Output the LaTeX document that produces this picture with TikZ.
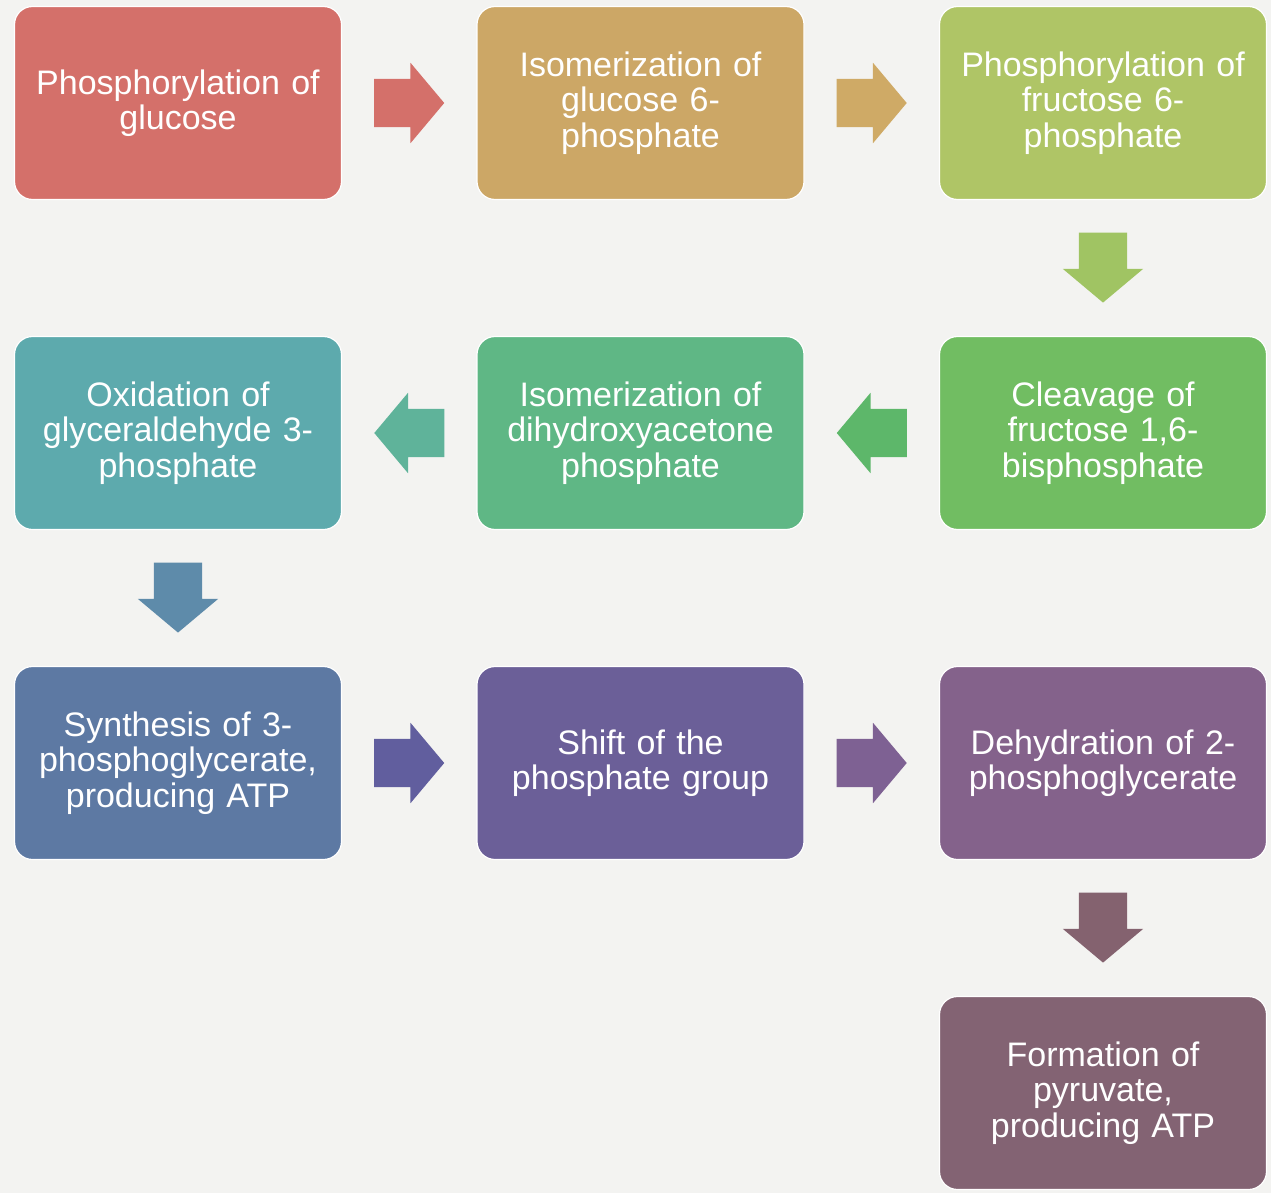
\documentclass[tikz,border=0pt]{standalone}
\usepackage{fontspec}
\setmainfont{Liberation Sans}
\usetikzlibrary{positioning,shapes.arrows,calc}
\definecolor{bgcol}{HTML}{F3F3F1}
\definecolor{stepA}{HTML}{D4706A}
\definecolor{stepB}{HTML}{CCA766}
\definecolor{stepC}{HTML}{AFC566}
\definecolor{stepD}{HTML}{71BD62}
\definecolor{stepE}{HTML}{5FB785}
\definecolor{stepF}{HTML}{5DAAAD}
\definecolor{stepG}{HTML}{5D79A3}
\definecolor{stepH}{HTML}{6B5F98}
\definecolor{stepI}{HTML}{84628B}
\definecolor{stepJ}{HTML}{836373}
\definecolor{flowAB}{HTML}{D4706A}
\definecolor{flowBC}{HTML}{CFAA66}
\definecolor{flowCD}{HTML}{A0C463}
\definecolor{flowDE}{HTML}{5DB76A}
\definecolor{flowEF}{HTML}{5FB39A}
\definecolor{flowFG}{HTML}{5E8BAA}
\definecolor{flowGH}{HTML}{615E9E}
\definecolor{flowHI}{HTML}{7E6193}
\definecolor{flowIJ}{HTML}{84626F}
\begin{document}
\begin{tikzpicture}[
    x=1pt, y=-1pt,
    node distance=137pt and 135.5pt,
    stepbox/.style={rectangle, rounded corners=18pt, draw=white, line width=1.2pt, outer sep=0pt, minimum width=327pt, minimum height=193pt, text width=310pt, align=center, inner sep=0pt, text=white, font=\fontsize{34}{35.5}\selectfont},
    flow/.style={single arrow, draw=none, anchor=tail, minimum height=70pt, inner xsep=0pt, inner ysep=24pt, single arrow head extend=16pt, single arrow tip angle=100} % flechas grossas
    ]
    \fill[bgcol] (0,0) rectangle (1271,1193);
    % caixas
    \node[stepbox, fill=stepA] (s1) at (178,103) {Phosphorylation of\\glucose};
    \node[stepbox, fill=stepB, right=of s1] (s2) {Isomerization of\\glucose 6-\\phosphate};
    \node[stepbox, fill=stepC, right=of s2] (s3) {Phosphorylation of\\fructose 6-\\phosphate};
    \node[stepbox, fill=stepD, below=of s3] (s4) {Cleavage of\\fructose 1,6-\\bisphosphate};
    \node[stepbox, fill=stepE, left=of s4] (s5) {Isomerization of\\dihydroxyacetone\\phosphate};
    \node[stepbox, fill=stepF, left=of s5] (s6) {Oxidation of\\glyceraldehyde 3-\\phosphate};
    \node[stepbox, fill=stepG, below=of s6] (s7) {Synthesis of 3-\\phosphoglycerate,\\producing ATP};
    \node[stepbox, fill=stepH, right=of s7] (s8) {Shift of the\\phosphate group};
    \node[stepbox, fill=stepI, right=of s8] (s9) {Dehydration of 2-\\phosphoglycerate};
    \node[stepbox, fill=stepJ, below=of s9] (s10) {Formation of\\pyruvate,\\producing ATP};
    % flechas entre as caixas
    \node[flow, fill=flowAB] (f12) at ($(s1.east)!0.24!(s2.west)$) {};
    \node[flow, fill=flowBC] (f23) at ($(s2.east)!0.24!(s3.west)$) {};
    \node[flow, fill=flowCD, rotate=-90] (f34) at ($(s3.south)!0.24!(s4.north)$) {};
    \node[flow, fill=flowDE, rotate=180] (f45) at ($(s4.west)!0.24!(s5.east)$) {};
    \node[flow, fill=flowEF, rotate=180] (f56) at ($(s5.west)!0.24!(s6.east)$) {};
    \node[flow, fill=flowFG, rotate=-90] (f67) at ($(s6.south)!0.24!(s7.north)$) {};
    \node[flow, fill=flowGH] (f78) at ($(s7.east)!0.24!(s8.west)$) {};
    \node[flow, fill=flowHI] (f89) at ($(s8.east)!0.24!(s9.west)$) {};
    \node[flow, fill=flowIJ, rotate=-90] (f910) at ($(s9.south)!0.24!(s10.north)$) {};
\end{tikzpicture}
\end{document}
